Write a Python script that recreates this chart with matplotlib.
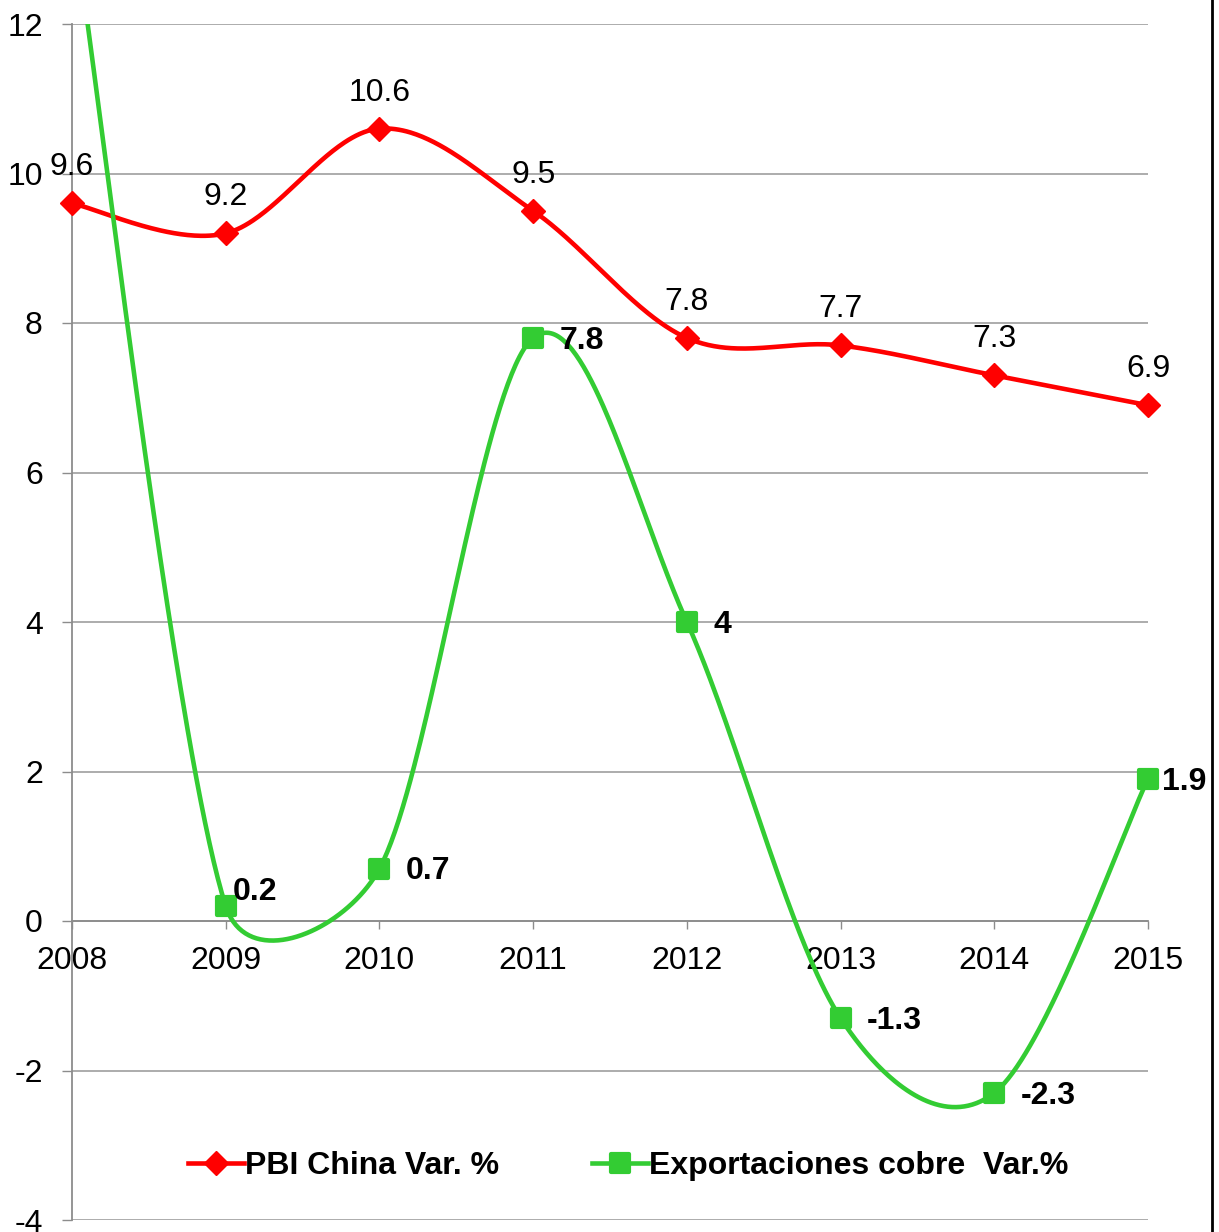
import numpy as np
import matplotlib
matplotlib.use('Agg')
import matplotlib.pyplot as plt
from matplotlib.lines import Line2D
from matplotlib.markers import MarkerStyle

years = [2008, 2009, 2010, 2011, 2012, 2013, 2014, 2015]
pbi_china = [9.6, 9.2, 10.6, 9.5, 7.8, 7.7, 7.3, 6.9]
# 2008 export value is off the chart top; estimated from the line slope
export_cobre = [13.5, 0.2, 0.7, 7.8, 4.0, -1.3, -2.3, 1.9]
pbi_label = 'PBI China Var. %'
cobre_label = 'Exportaciones cobre  Var.%'

RED = '#ff0000'
GREEN = '#33cc33'
GRID = '#a6a6a6'

plt.rcParams['font.family'] = ['Liberation Sans', 'DejaVu Sans']
plt.rcParams['axes.unicode_minus'] = False


def smooth(xs, ys, sx, sy, k=0.45, n=80):
    # excel-like bezier smoothing done in pixel space
    P = np.column_stack([np.asarray(xs, float) * sx, np.asarray(ys, float) * sy])
    pts = []
    for i in range(len(P) - 1):
        p0 = P[max(i - 1, 0)]
        p1 = P[i]
        p2 = P[i + 1]
        p3 = P[min(i + 2, len(P) - 1)]
        d12 = np.hypot(*(p2 - p1))
        t1 = (p2 - p0) / 6.0
        t2 = (p3 - p1) / 6.0
        for t in (t1, t2):
            L = np.hypot(*t)
            if L > k * d12:
                t *= k * d12 / L
        c1 = p1 + t1
        c2 = p2 - t2
        t = np.linspace(0, 1, n)[:, None]
        b = (1 - t) ** 3 * p1 + 3 * (1 - t) ** 2 * t * c1 + 3 * (1 - t) * t ** 2 * c2 + t ** 3 * p2
        pts.append(b if i == 0 else b[1:])
    pts = np.vstack(pts)
    return pts[:, 0] / sx, pts[:, 1] / sy


fig = plt.figure(figsize=(12.19, 12.32), dpi=100)
ax = fig.add_axes([72 / 1219, 12 / 1232, 1076 / 1219, 1196 / 1232])
ax.set_xlim(2008, 2015)
ax.set_ylim(-4, 12)

bbox = ax.get_window_extent()
sx = bbox.width / 7.0
sy = bbox.height / 16.0

ax.set_yticks(np.arange(-4, 13, 2))
ax.set_xticks(years)
ax.yaxis.grid(True, color=GRID, lw=1.3)
ax.set_axisbelow(True)
for s in ['top', 'right']:
    ax.spines[s].set_visible(False)
ax.spines['bottom'].set_position(('data', 0))
ax.spines['bottom'].set_color('#8c8c8c')
ax.spines['left'].set_color('#8c8c8c')
ax.spines['bottom'].set_linewidth(1.3)
ax.spines['left'].set_linewidth(1.3)
ax.tick_params(axis='y', length=7, width=1, color='#8c8c8c', labelsize=23, pad=14)
ax.tick_params(axis='x', length=6, width=1, color='#8c8c8c', labelsize=23, pad=12)

red_marker = MarkerStyle('D', joinstyle='miter')
green_marker = MarkerStyle('s', joinstyle='round')

# red line
rx, ry = smooth(years, pbi_china, sx, sy)
ax.plot(rx, ry, color=RED, lw=3.3, solid_capstyle='round', zorder=3)
ax.plot(years, pbi_china, ls='none', marker=red_marker, ms=12, color=RED,
        zorder=4, clip_on=False)
for x, v in zip(years, pbi_china):
    ax.annotate(f'{v:g}', (x, v), xytext=(0, 26), textcoords='offset points',
                ha='center', va='center', fontsize=23, zorder=5)

# green line
gx, gy = smooth(years, export_cobre, sx, sy)
ax.plot(gx, gy, color=GREEN, lw=3.3, solid_capstyle='round', zorder=3)
g_vis = np.ma.masked_greater(np.array(export_cobre), 12)
ax.plot(years, g_vis, ls='none', marker=green_marker, ms=13, mew=3, color=GREEN,
        zorder=4, clip_on=False)
for x, v in zip(years, export_cobre):
    if v > 12:
        continue
    if x == 2009:
        off = (5, 10)
    elif x == 2015:
        off = (10, -2)
    else:
        off = (19, -2)
    ax.annotate(f'{v:g}', (x, v), xytext=off, textcoords='offset points',
                ha='left', va='center', fontsize=23, fontweight='bold', zorder=5)

handles = [
    Line2D([], [], color=RED, lw=3.3, marker=red_marker, ms=12),
    Line2D([], [], color=GREEN, lw=3.3, marker=green_marker, ms=13, mew=3),
]
leg = ax.legend(handles, [pbi_label, cobre_label], loc='center', bbox_to_anchor=(0.517, 0.045),
                ncol=2, frameon=False, handlelength=1.75, handletextpad=0.05, columnspacing=2.9,
                prop={'size': 23, 'weight': 'bold'})

fig.add_artist(Line2D([1212 / 1219, 1212 / 1219], [0, 1], color='black', lw=2))

fig.savefig('out.png', dpi=100)
